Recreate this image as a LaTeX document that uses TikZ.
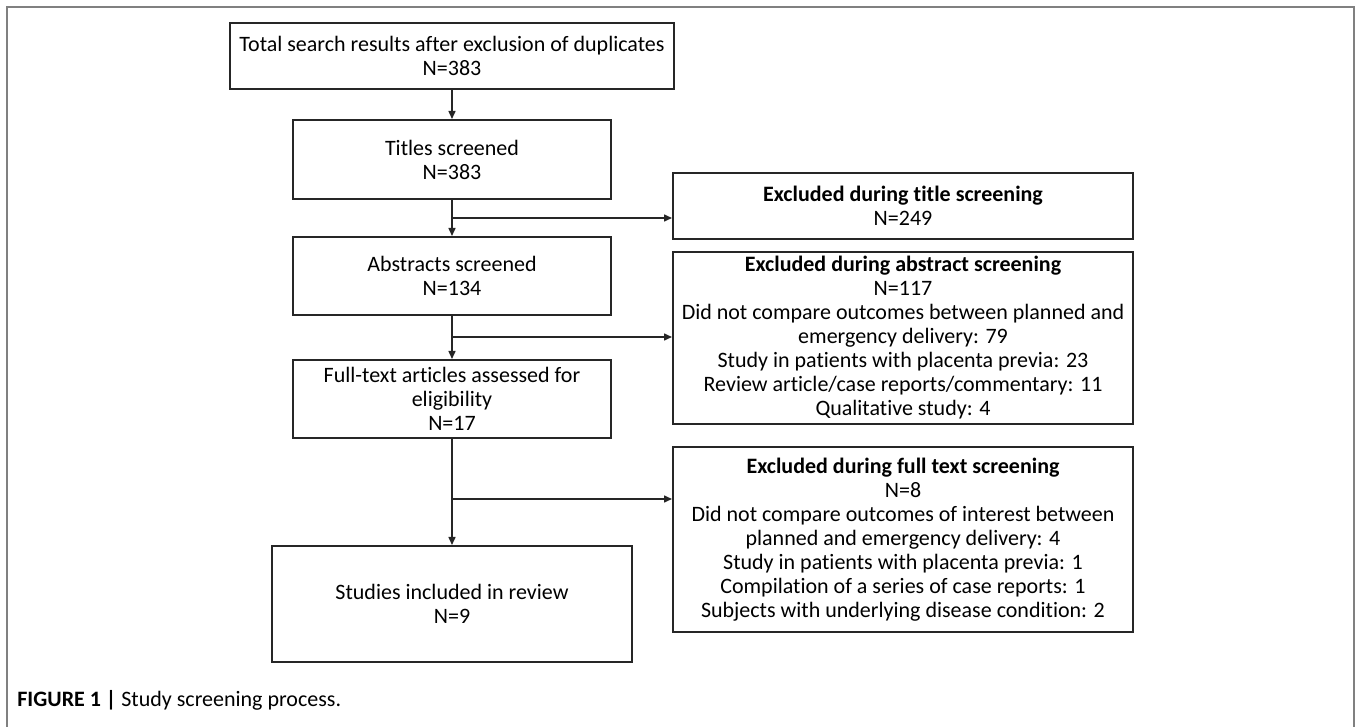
\documentclass[tikz,border=0pt]{standalone}
\usepackage{fontspec}
\setmainfont{Carlito}[Ligatures=NoCommon]
\usetikzlibrary{arrows.meta, positioning}

\begin{document}
\begin{tikzpicture}[
                x=0.5pt, y=-0.5pt,
                box/.style={rectangle, draw=black!85, line width=1pt, align=center, inner sep=0pt, font=\fontsize{11}{12}\selectfont},
                excl/.style={box, minimum width=230pt},
                flow/.style={-{Triangle[length=4pt, width=3.5pt]}, line width=0.75pt, black!85}
            ]
                \useasboundingbox (0,0) rectangle (1357,727);
                \draw[gray, line width=1pt] (7,727) -- (7,7) -- (1354,7) -- (1354,727);

                \node[box, minimum width=222pt, minimum height=33pt] (total) at (452,56) {Total search results after exclusion of duplicates\\N=383};
                \node[box, minimum width=159pt, minimum height=39.5pt] (titles) at (452,159.5) {Titles screened\\N=383};
                \node[box, minimum width=159pt, minimum height=39pt] (abstracts) at (452,276) {Abstracts screened\\N=134};
                \node[box, minimum width=159pt, minimum height=39pt] (fulltext) at (452,399) {Full-text articles assessed for\\eligibility\\N=17};
                \node[box, minimum width=180pt, minimum height=58pt] (included) at (452,604) {Studies included in review\\N=9};

                \node[excl, minimum height=33pt] (excltitle) at (903,206) {\textbf{Excluded during title screening}\\N=249};
                \node[excl, minimum height=86pt] (exclabstract) at (903,338) {\textbf{Excluded during abstract screening}\\N=117\\Did not compare outcomes between planned and\\emergency delivery: 79\\Study in patients with placenta previa: 23\\Review article/case reports/commentary: 11\\Qualitative study: 4};
                \node[excl, minimum height=92.5pt] (exclfull) at (903,539.5) {\textbf{Excluded during full text screening}\\N=8\\Did not compare outcomes of interest between\\planned and emergency delivery: 4\\Study in patients with placenta previa: 1\\Compilation of a series of case reports: 1\\Subjects with underlying disease condition: 2};

                \node[anchor=west, inner sep=0pt, font=\fontsize{11}{12}\selectfont] (caption) at (17,700) {\textbf{FIGURE 1 |} Study screening process.};

                \coordinate (split1) at (452,218);
                \coordinate (split2) at (452,337);
                \coordinate (split3) at (452,499);

                \draw[flow] (total) -- (titles);
                \draw[flow] (titles) -- (abstracts);
                \draw[flow] (abstracts) -- (fulltext);
                \draw[flow] (fulltext) -- (included);
                \draw[flow] (split1) -- (split1 -| excltitle.west);
                \draw[flow] (split2) -- (split2 -| exclabstract.west);
                \draw[flow] (split3) -- (split3 -| exclfull.west);
            \end{tikzpicture}
\end{document}
